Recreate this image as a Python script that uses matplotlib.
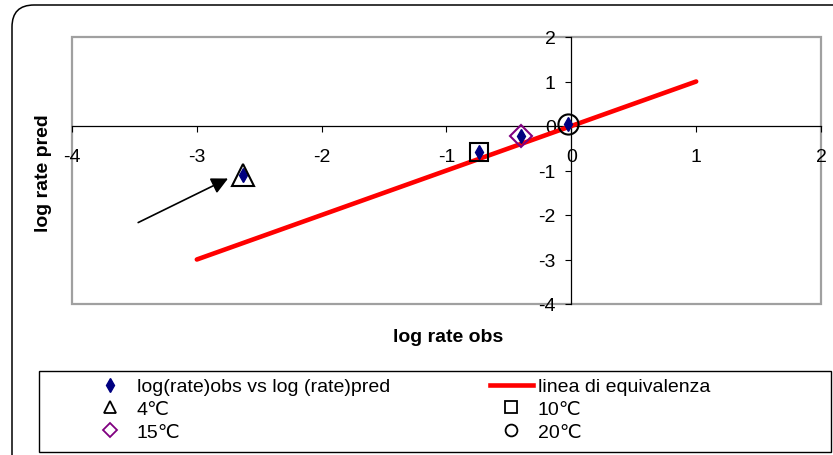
import matplotlib
matplotlib.use('Agg')
import matplotlib.pyplot as plt
from matplotlib.lines import Line2D
from matplotlib.patches import FancyBboxPatch, Rectangle
from matplotlib.transforms import IdentityTransform

plt.rcParams['font.family'] = ['Liberation Sans', 'DejaVu Sans']
plt.rcParams['axes.unicode_minus'] = False

# data
log_obs = [-2.63, -0.74, -0.40, -0.03]
log_pred = [-1.09, -0.58, -0.23, 0.05]
temps = ['4℃', '10℃', '15℃', '20℃']
eq_x = [-3, 1]
eq_y = [-3, 1]
ticks = [-4, -3, -2, -1, 0, 1, 2]
arrow_tail = (-3.47, -2.17)
arrow_tip = (-2.75, -1.18)

W, H = 833, 456
fig = plt.figure(figsize=(W / 100, H / 100), dpi=100)
ax = fig.add_axes([72 / W, 1 - 305 / H, (821 - 72) / W, (305 - 38) / H])

ax.set_xlim(-4, 2)
ax.set_ylim(-4, 2)
ax.spines['left'].set_position(('data', 0))
ax.spines['bottom'].set_position(('data', 0))
ax.spines['top'].set_visible(False)
ax.spines['right'].set_visible(False)
for s in ('left', 'bottom'):
    ax.spines[s].set_linewidth(0.9)
ax.patch.set_edgecolor('#a0a0a0')
ax.patch.set_linewidth(1.6)

ax.set_xticks(ticks)
ax.set_yticks(ticks)
ax.tick_params(axis='x', direction='out', length=4.3, width=0.8, pad=11.5, labelsize=14)
ax.tick_params(axis='y', direction='out', length=4.3, width=0.8, pad=7, labelsize=14)

ax.plot(eq_x, eq_y, color='red', lw=3.3, solid_capstyle='round', zorder=3)
ax.plot(log_obs, log_pred, ls='none', marker='d', ms=7.3, color='#000080', zorder=4)

# hollow markers highlighting each temperature
styles = [('^', 'black', 15.5), ('s', 'black', 13.5), ('D', '#800080', 11.5), ('o', 'black', 14.5)]
for i, (m, c, size) in enumerate(styles):
    ax.plot(log_obs[i], log_pred[i], ls='none', marker=m, ms=size, mfc='none',
            mec=c, mew=1.5, zorder=5)

ax.annotate('', xy=arrow_tip, xytext=arrow_tail,
            arrowprops=dict(arrowstyle='-|>', color='black', lw=1.2,
                            mutation_scale=25, shrinkA=0, shrinkB=0))

fig.text(448 / W, 1 - 338 / H, 'log rate obs', ha='center', va='center',
         fontsize=14, fontweight='bold')
fig.text(44 / W, 1 - 173 / H, 'log rate pred', ha='center', va='center',
         fontsize=14, fontweight='bold', rotation=90)

# chart border and legend box
fig.add_artist(FancyBboxPatch((12, -60), 950, H - 6 + 60,
                              boxstyle='round,pad=0,rounding_size=22',
                              transform=IdentityTransform(), fill=False,
                              ec='black', lw=1.1))
fig.add_artist(Rectangle((39, H - 453), 831 - 39, 453 - 372,
                         transform=IdentityTransform(), fill=False,
                         ec='black', lw=1))

handles = [
    Line2D([], [], ls='none', marker='d', ms=7.2, color='#000080'),
    Line2D([], [], ls='none', marker='^', ms=8, mfc='none', mec='black', mew=1.3),
    Line2D([], [], ls='none', marker='D', ms=7.5, mfc='none', mec='#800080', mew=1.3),
    Line2D([], [], color='red', lw=3.3),
    Line2D([], [], ls='none', marker='s', ms=9, mfc='none', mec='black', mew=1.3),
    Line2D([], [], ls='none', marker='o', ms=8.5, mfc='none', mec='black', mew=1.3),
]
labels = ['log(rate)obs vs log (rate)pred', temps[0], temps[2],
          'linea di equivalenza', temps[1], temps[3]]
fig.legend(handles, labels, ncol=2, loc='upper left',
           bbox_to_anchor=(88.5 / W, (H - 378.8) / H), frameon=False,
           borderpad=0, borderaxespad=0, handlelength=2.21, handletextpad=0.26,
           columnspacing=5.13, labelspacing=0.26, fontsize=14)

fig.savefig('out.png', dpi=100)
